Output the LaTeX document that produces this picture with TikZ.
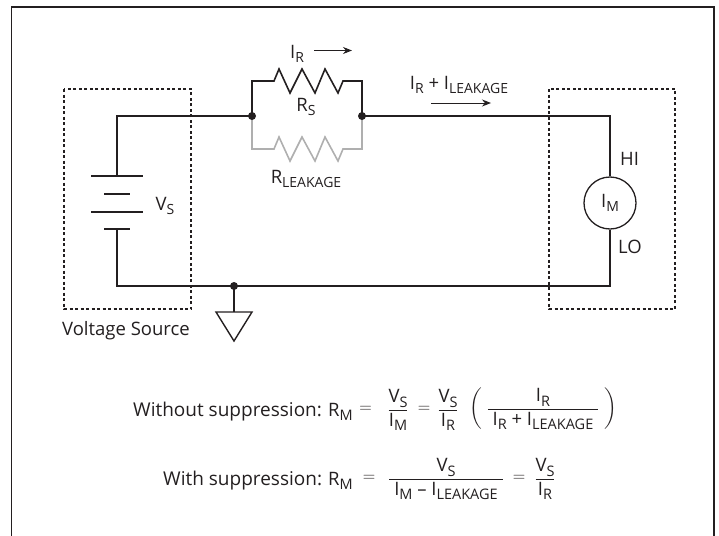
\documentclass[tikz,border=0pt]{standalone}
\usepackage{amsmath}
\usepackage{fontspec}
\setmainfont{Open Sans}
\usetikzlibrary{arrows.meta}
\newcommand\sbs[1]{\raisebox{-4pt}{\fontsize{14}{14}\selectfont #1}}
\newcommand\esb[1]{\raisebox{-4.5pt}{\fontsize{14.5}{15}\selectfont #1}}
\definecolor{leakgray}{RGB}{175,175,175}
\definecolor{ink}{RGB}{35,31,32}
\tikzset{
  wire/.style={line width=1.6pt, draw=ink, line join=miter},
  leakwire/.style={line width=1.6pt, draw=leakgray, line join=miter},
  dbox/.style={line width=1.5pt, draw=ink, dash pattern=on 3pt off 2.5pt},
  lbl/.style={font=\fontsize{18.5}{20}\selectfont, text=ink, inner sep=0pt},
  eqtext/.style={font=\fontsize{19}{22}\selectfont, text=ink, inner sep=0pt},
  eqn/.style={font=\fontsize{18.5}{22}\selectfont, text=ink, inner sep=0pt},
  junction/.style={circle, fill=ink, inner sep=0pt, minimum size=8pt},
  currarrow/.style={line width=1pt, draw=ink, -{Stealth[length=9pt,width=7pt]}},
  meter/.style={circle, draw=ink, line width=1.3pt, minimum size=52pt, inner sep=0pt, font=\fontsize{18.5}{20}\selectfont, text=ink},
}
\begin{document}
\begin{tikzpicture}[x=1pt,y=-1pt]
\useasboundingbox (0,0) rectangle (719,535);
% frame
\draw[line width=1.6pt, draw=ink] (11.5,536) -- (11.5,7) -- (714,7) -- (714,536);
% dashed boxes
\draw[dbox] (64,89) rectangle (191,309);
\draw[dbox] (549,89) rectangle (675,309);
% coordinates
\coordinate (jl) at (252,116);
\coordinate (jr) at (362,116);
\coordinate (jg) at (234,286);
\coordinate (bl) at (117,116);
\coordinate (bbl) at (117,286);
\coordinate (tr) at (610,116);
\coordinate (br) at (610,286);
\coordinate (btop) at (117,176);
\coordinate (bbot) at (117,229);
% battery
\draw[wire] (91,176) -- (143,176);
\draw[wire] (104,194) -- (130,194);
\draw[wire] (91,212) -- (143,212);
\draw[wire] (104,229) -- (130,229);
\node[lbl] (vs) at (165,206) {V\sbs{S}};
% meter
\node[meter] (im) at (610,203) {I\sbs{M}};
\node[lbl, anchor=west] (hi) at (620,159) {HI};
\node[lbl, anchor=west] (lo) at (618,247) {LO};
% wires
\draw[wire] (btop) -- (bl) -- (jl);
\draw[wire] (jr) -- (tr) -- (im.north);
\draw[wire] (im.south) -- (br) -- (bbl) -- (bbot);
% Rs
\draw[wire] (jl) -- (252,81) -- (274,81) -- (279,69) -- (290,93) -- (302,69) -- (315,93) -- (325,69) -- (338,93) -- (343,81) -- (362,81) -- (jr);
% leakage
\draw[leakwire] (jl) -- (252,149) -- (274,149) -- (279,137) -- (290,161) -- (302,137) -- (315,161) -- (325,137) -- (338,161) -- (343,149) -- (362,149) -- (jr);
\node[junction] (d1) at (jl) {};
\node[junction] (d2) at (jr) {};
% ground
\node[junction] (d3) at (jg) {};
\coordinate (gt) at (234,312);
\draw[wire] (jg) -- (gt);
\draw[line width=1.4pt, draw=ink, line join=miter] (216,312) -- (252,312) -- (234,341) -- cycle;
% labels
\node[lbl] (rs) at (306,107) {R\sbs{S}};
\node[lbl] (rleak) at (306,179) {R\sbs{LEAKAGE}};
\node[lbl] (ir) at (297,54) {I\sbs{R}};
\coordinate (a1s) at (314,50.5);
\coordinate (a1e) at (352,50.5);
\draw[currarrow] (a1s) -- (a1e);
\node[lbl] (irl) at (459,85) {I\sbs{R} + I\sbs{LEAKAGE}};
\coordinate (a2s) at (431,103);
\coordinate (a2e) at (491,103);
\draw[currarrow] (a2s) -- (a2e);
\node[lbl] (vsrc) at (126,331) {Voltage Source};
% equation 1
\node[eqtext, anchor=base west] (t1) at (133,416) {Without suppression:};
\node[eqn, anchor=base west] (rm1) at (328,416) {R\esb{M}};
\node[eqn] (eqa) at (365.5,409) {$=$};
\node[eqn] (f1) at (398,410) {$\dfrac{\text{V\esb{S}}}{\text{I\esb{M}}}$};
\node[eqn] (eqb) at (424,409) {$=$};
\node[eqn] (f2) at (448,410) {$\dfrac{\text{V\esb{S}}}{\text{I\esb{R}}}$};
\node[eqn] (f3) at (543,409) {$\left(\;\dfrac{\text{I\esb{R}}}{\;\text{I\esb{R} + I\esb{LEAKAGE}}\;}\;\right)$};
% equation 2
\node[eqtext, anchor=base west] (t2) at (163,485) {With suppression:};
\node[eqn, anchor=base west] (rm2) at (328,485) {R\esb{M}};
\node[eqn] (eqc) at (369,478) {$=$};
\node[eqn] (f4) at (446,479) {$\dfrac{\text{V\esb{S}}}{\;\text{I\esb{M} -- I\esb{LEAKAGE}}\;}$};
\node[eqn] (eqd) at (519,478) {$=$};
\node[eqn] (f5) at (545,479) {$\dfrac{\text{V\esb{S}}}{\text{I\esb{R}}}$};
\end{tikzpicture}
\end{document}
